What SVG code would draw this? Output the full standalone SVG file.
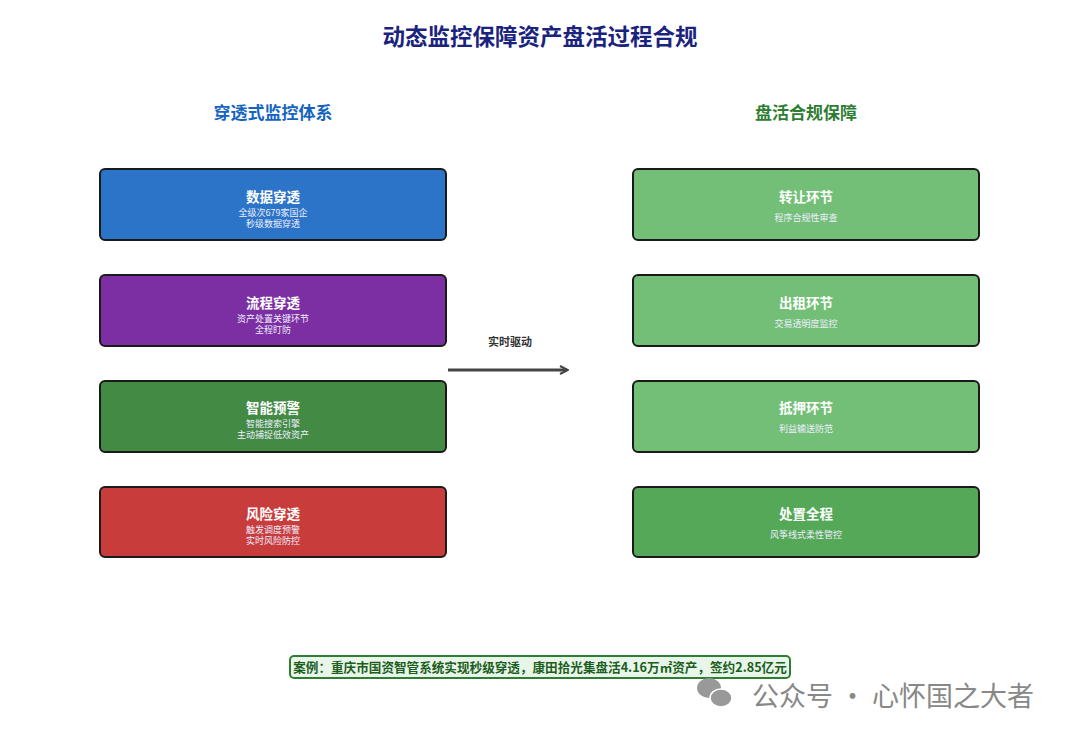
<svg xmlns="http://www.w3.org/2000/svg" width="1080" height="740" viewBox="0 0 1080 740">
<style>
text{font-family:"Noto Sans CJK SC","Noto Sans",sans-serif;text-anchor:middle}
.box{stroke:#1a1a1a;stroke-width:2}
.t{font-size:13.5px;font-weight:bold;fill:#fff}
.s{font-size:9px;fill:#eef}
</style>
<defs><marker id="ah" markerWidth="10" markerHeight="10" refX="8" refY="5" orient="auto" markerUnits="userSpaceOnUse"><path d="M1,1 L9,5 L1,9" fill="none" stroke="#444" stroke-width="2"/></marker></defs>
<rect width="1080" height="740" fill="#fff"/>
<text x="540" y="45" font-size="22.5" font-weight="bold" fill="#1a237e">动态监控保障资产盘活过程合规</text>
<text x="273" y="119" font-size="17" font-weight="bold" fill="#1565c0">穿透式监控体系</text>
<text x="806" y="119" font-size="17" font-weight="bold" fill="#2e7d32">盘活合规保障</text>
<g id="n1"><rect class="box" x="100" y="169" width="346" height="71" rx="5" fill="#2b74c7"/><text class="t" x="273" y="202">数据穿透</text><text class="s" x="273" y="216">全级次679家国企</text><text class="s" x="273" y="227">秒级数据穿透</text></g>
<g id="n2"><rect class="box" x="100" y="275" width="346" height="71" rx="5" fill="#7b2fa3"/><text class="t" x="273" y="308">流程穿透</text><text class="s" x="273" y="322">资产处置关键环节</text><text class="s" x="273" y="333">全程盯防</text></g>
<g id="n3"><rect class="box" x="100" y="381" width="346" height="71" rx="5" fill="#438b45"/><text class="t" x="273" y="413">智能预警</text><text class="s" x="273" y="427">智能搜索引擎</text><text class="s" x="273" y="438">主动捕捉低效资产</text></g>
<g id="n4"><rect class="box" x="100" y="487" width="346" height="70" rx="5" fill="#c83c3c"/><text class="t" x="273" y="519">风险穿透</text><text class="s" x="273" y="533">触发调度预警</text><text class="s" x="273" y="544">实时风险防控</text></g>
<g id="m1"><rect class="box" x="633" y="169" width="346" height="71" rx="5" fill="#74bf78"/><text class="t" x="806" y="202">转让环节</text><text class="s" x="806" y="221">程序合规性审查</text></g>
<g id="m2"><rect class="box" x="633" y="275" width="346" height="71" rx="5" fill="#74bf78"/><text class="t" x="806" y="308">出租环节</text><text class="s" x="806" y="327">交易透明度监控</text></g>
<g id="m3"><rect class="box" x="633" y="381" width="346" height="71" rx="5" fill="#74bf78"/><text class="t" x="806" y="413">抵押环节</text><text class="s" x="806" y="432">利益输送防范</text></g>
<g id="m4"><rect class="box" x="633" y="487" width="346" height="70" rx="5" fill="#55a858"/><text class="t" x="806" y="519">处置全程</text><text class="s" x="806" y="538">风筝线式柔性管控</text></g>
<g id="connectors"><line x1="448" y1="370" x2="567" y2="370" stroke="#444" stroke-width="3" marker-end="url(#ah)"/><text x="510" y="346" font-size="11" font-weight="bold" fill="#333">实时驱动</text></g>
<g id="case"><rect x="290" y="656" width="500" height="22" rx="4" fill="#e8f5e9" stroke="#2e7d32" stroke-width="2"/><text x="540" y="671.5" font-size="12.6" font-weight="bold" fill="#1b5e20">案例：重庆市国资智管系统实现秒级穿透，康田拾光集盘活4.16万㎡资产，签约2.85亿元</text></g>
<g id="wm" fill="#999"><ellipse cx="709" cy="688" rx="12" ry="10"/><ellipse cx="721" cy="698" rx="11" ry="9" stroke="#fff" stroke-width="1.5"/><text x="893" y="706" font-size="27" fill="#888">公众号 · 心怀国之大者</text></g>
</svg>
